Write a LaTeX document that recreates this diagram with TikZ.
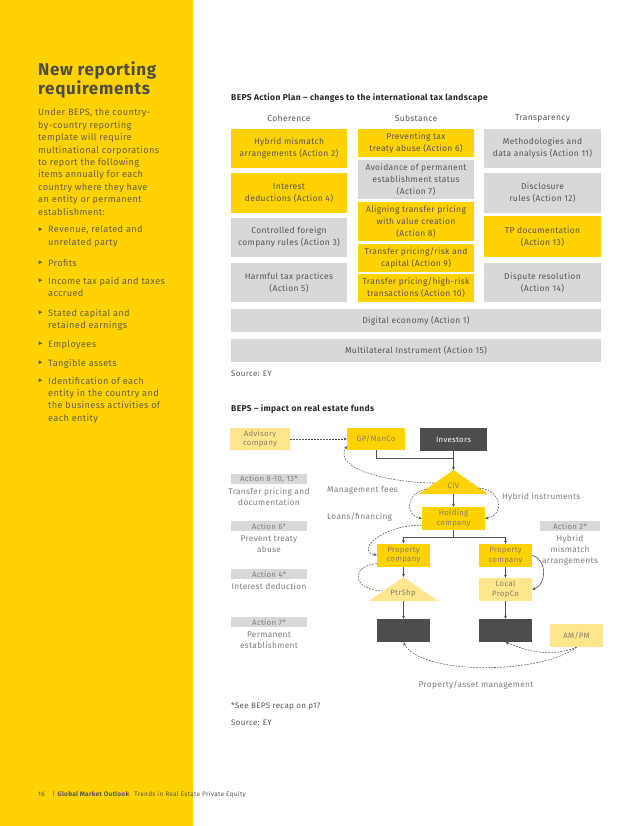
\documentclass[tikz,border=0pt]{standalone}
\usepackage{fontspec}
\setmainfont{Fira Sans}[LetterSpace=4]
\usetikzlibrary{calc, positioning, arrows.meta}
\definecolor{EYYellow}{RGB}{255,210,0}
\definecolor{paleyellow}{RGB}{255,229,140}
\definecolor{boxgrey}{RGB}{216,216,217}
\definecolor{darkbox}{RGB}{77,77,79}
\definecolor{textgrey}{RGB}{85,85,85}
\definecolor{labelgrey}{RGB}{125,125,125}
\definecolor{boxtext}{RGB}{135,128,105}
\definecolor{sidetext}{RGB}{100,96,72}
\definecolor{sidetitle}{RGB}{78,76,62}
\definecolor{linkgrey}{RGB}{80,80,80}

\begin{document}
\begin{tikzpicture}[x=1pt, y=-1pt, font=\fontsize{8}{10}\selectfont,
  plancell/.style={inner sep=0pt, align=center, text=textgrey, font=\fontsize{8.5}{12}\selectfont},
  fundbox/.style={inner sep=0pt, align=center, text=boxtext, font=\fontsize{7.8}{9.5}\selectfont,
                  minimum width=53pt, minimum height=23pt},
  lbl/.style={inner sep=0pt, align=center, text=labelgrey, font=\fontsize{8.3}{11}\selectfont},
  actbox/.style={inner sep=0pt, fill=boxgrey, text=labelgrey, font=\fontsize{7.8}{9}\selectfont,
                 minimum height=10pt},
  sidebody/.style={anchor=base west, inner sep=0pt, align=left, text=sidetext, font=\fontsize{9.2}{12.4}\selectfont},
  solidline/.style={draw=linkgrey, line width=0.6pt},
  solidarrow/.style={solidline, -{Stealth[length=3.2pt, width=3pt]}},
  dashline/.style={draw=linkgrey, line width=0.55pt, dash pattern=on 1.8pt off 1.2pt},
  dasharrow/.style={dashline, -{Stealth[length=3.2pt, width=3pt]}}]
  \useasboundingbox (0,0) rectangle (638,826);
  \fill[EYYellow] (0,0) rectangle (193,826);

  % sidebar (base = last line of each block)
  \node[anchor=base west, inner sep=0pt, align=left, text=sidetitle,
        font=\bfseries\fontsize{17}{19}\selectfont] (sidehead) at (38,95) {New reporting\\requirements};
  \node[sidebody] (intro) at (38,215.2)
    {Under BEPS, the country-\\by-country reporting\\template will require\\multinational corporations\\to report the following\\items annually for each\\country where they have\\an entity or permanent\\establishment:};
  \foreach \y/\n/\txt [count=\i] in {233/2/{Revenue, related and\\unrelated party}, 266/1/Profits,
                                     284/2/{Income tax paid and taxes\\accrued}, 316/2/{Stated capital and\\retained earnings},
                                     347/1/Employees, 366/1/Tangible assets,
                                     384/4/{Identification of each\\entity in the country and\\the business activities of\\each entity}} {
    \fill[sidetext] (38.5,\y-5.8) -- (42.3,\y-3.8) -- (38.5,\y-1.8) -- cycle;
    \node[sidebody] (item\i) at (48,{\y+(\n-1)*12.4}) {\txt};
  }

  % action plan table
  \node[anchor=base west, inner sep=0pt, text=black!85, font=\bfseries\fontsize{8.5}{10}\selectfont]
    (plantitle) at (231,101) {BEPS Action Plan -- changes to the international tax landscape};
  \foreach \x/\h [count=\i] in {289/Coherence, 416/Substance, 542.5/Transparency}
    \node[text=textgrey, font=\fontsize{8.5}{10}\selectfont] (head\i) at (\x,118) {\h};
  \foreach \nm/\x/\yt/\yb/\fc/\txt in {
      co1/289/129/168/EYYellow/{Hybrid mismatch\\arrangements (Action 2)},
      co2/289/173/213/EYYellow/{Interest\\deductions (Action 4)},
      co3/289/218/257/boxgrey/{Controlled foreign\\company rules (Action 3)},
      co4/289/263/302/boxgrey/{Harmful tax practices\\(Action 5)},
      su1/416/129/157/EYYellow/{Preventing tax\\treaty abuse (Action 6)},
      su2/416/160/199/boxgrey/{Avoidance of permanent\\establishment status\\(Action 7)},
      su3/416/202/241/EYYellow/{Aligning transfer pricing\\with value creation\\(Action 8)},
      su4/416/244/272/EYYellow/{Transfer pricing/risk and\\capital (Action 9)},
      su5/416/274/302/EYYellow/{Transfer pricing/high-risk\\transactions (Action 10)},
      tr1/542.5/129/168/boxgrey/{Methodologies and\\data analysis (Action 11)},
      tr2/542.5/173/213/boxgrey/{Disclosure\\rules (Action 12)},
      tr3/542.5/216/257/EYYellow/{TP documentation\\(Action 13)},
      tr4/542.5/263/302/boxgrey/{Dispute resolution\\(Action 14)}} {
    \node[plancell, fill=\fc, minimum width=116.5pt, minimum height={\yb-\yt}] (\nm) at (\x,{(\yt+\yb)/2}) {\txt};
  }
  \node[plancell, fill=boxgrey, minimum width=370pt, minimum height=23pt] (digital) at (416,320.5) {Digital economy (Action 1)};
  \node[plancell, fill=boxgrey, minimum width=370pt, minimum height=23pt] (multi) at (416,350.5) {Multilateral Instrument (Action 15)};
  \node[anchor=base west, inner sep=0pt, text=textgrey] (src1) at (231,376) {Source: EY};

  % impact on real estate funds
  \node[anchor=base west, inner sep=0pt, text=black!85, font=\bfseries\fontsize{8.5}{10}\selectfont]
    (fundtitle) at (231,411) {BEPS -- impact on real estate funds};

  \node[fundbox, fill=paleyellow, minimum width=60pt, minimum height=22pt] (adv) at (260,439) {Advisory\\company};
  \node[fundbox, fill=EYYellow, minimum width=58pt, minimum height=22pt] (gp) at (376,439) {GP/ManCo};
  \node[fundbox, fill=darkbox, text=white, minimum width=67pt] (inv) at (453.5,439.5) {Investors};
  \fill[EYYellow] (453.5,470) coordinate (civtop) -- (488,494) -- (419,494) -- cycle;
  \node[inner sep=0pt, text=boxtext, font=\fontsize{7.8}{9.5}\selectfont] (civ) at (453.5,486) {CIV};
  \coordinate (civbase) at (453.5,494);
  \node[fundbox, fill=EYYellow, minimum width=63pt] (hold) at (453.5,518.5) {Holding\\company};
  \node[fundbox, fill=EYYellow] (propL) at (403.5,555) {Property\\company};
  \node[fundbox, fill=EYYellow] (propR) at (505.5,555.5) {Property\\company};
  \node[fundbox, fill=paleyellow] (local) at (505.5,589.5) {Local\\PropCo};
  \fill[paleyellow] (403.5,577) coordinate (ptrtop) -- (438,601) -- (369,601) -- cycle;
  \node[inner sep=0pt, text=boxtext, font=\fontsize{7.8}{9.5}\selectfont] (ptr) at (403,593) {PtrShp};
  \coordinate (ptrbase) at (403.5,601);
  \node[fundbox, fill=darkbox] (darkL) at (403.5,630.5) {};
  \node[fundbox, fill=darkbox] (darkR) at (505.5,630.5) {};
  \node[fundbox, fill=paleyellow] (ampm) at (576.5,635.5) {AM/PM};

  % ownership lines
  \coordinate (invjoin) at (453.5,458);
  \coordinate (split) at (453.5,537);
  \draw[solidline] (gp.south) |- (invjoin);
  \draw[solidarrow] (inv.south) -- (civtop);
  \draw[solidarrow] (civbase) -- (hold.north);
  \draw[solidline] (hold.south) -- (split);
  \draw[solidarrow] (split) -| (propL.north);
  \draw[solidarrow] (split) -| (propR.north);
  \draw[solidarrow] (propL.south) -- (ptrtop);
  \draw[solidarrow] (ptrbase) -- (darkL.north);
  \draw[solidarrow] (propR.south) -- (local.north);
  \draw[solidarrow] (local.south) -- (darkR.north);
  \draw[solidarrow] (propR.east) .. controls +(16,4) and +(14,-4) .. (local.east);

  % flows
  \coordinate (civw) at (434,483);
  \coordinate (civwl) at (426,489);
  \coordinate (cive) at (479,488);
  \coordinate (gpfee) at ($(gp.south west)+(0,-4)$);
  \coordinate (holdwl) at ($(hold.south west)+(0,-5)$);
  \coordinate (propwl) at ($(propL.south west)+(0,-3)$);
  \coordinate (ptrw) at (383,591);
  \draw[dasharrow] (adv.east) -- (gp.west);
  \draw[dasharrow] (civw) .. controls (395,483) and (332,470) .. (gpfee);
  \draw[dasharrow] (civwl) .. controls (405,494) and (405,515) .. (hold.west);
  \draw[dasharrow] (cive) .. controls (502,490) and (505,515) .. (hold.east);
  \draw[dasharrow] (holdwl) .. controls (380,525) and (355,552) .. (propL.west);
  \draw[dashline] (propwl) .. controls (350,566) and (352,590) .. (ptrw);
  \draw[dasharrow] (ampm.south) .. controls +(-25,10) and +(25,10) .. (darkR.south);
  \draw[dasharrow] (ampm.south) .. controls (540,675) and (420,675) .. (darkL.south);

  \node[lbl, anchor=base west] (feelbl) at (327,492) {Management fees};
  \node[lbl, anchor=base west] (loanlbl) at (327,519) {Loans/financing};
  \node[lbl, anchor=base west] (hyblbl) at (502,499) {Hybrid instruments};
  \node[lbl] (pamlbl) at (476,685) {Property/asset management};

  % action references
  \foreach \nm/\x/\y/\w/\act/\txt in {a1/269/479/76/{Action 8-10, 13*}/{Transfer pricing and\\documentation},
                                      a2/269/526/76/{Action 6*}/{Prevent treaty\\abuse},
                                      a3/269/574/76/{Action 4*}/{Interest deduction},
                                      a4/269/622/76/{Action 7*}/{Permanent\\establishment},
                                      a5/570/526/60/{Action 2*}/{Hybrid\\mismatch\\arrangements}} {
    \node[actbox, minimum width=\w pt] (\nm) at (\x,\y) {\act};
    \node[lbl, below=4pt of \nm] (\nm-txt) {\txt};
  }

  \node[anchor=base west, inner sep=0pt, text=textgrey] (note) at (231,708) {*See BEPS recap on p17};
  \node[anchor=base west, inner sep=0pt, text=textgrey] (src2) at (231,725) {Source: EY};

  % footer
  \node[anchor=base west, inner sep=0pt, text=textgrey, font=\fontsize{6.5}{8}\selectfont] (footer) at (38,796)
    {16\hspace{8pt}| \textbf{Global Market Outlook}\hspace{3pt} Trends in Real Estate Private Equity};
\end{tikzpicture}
\end{document}
